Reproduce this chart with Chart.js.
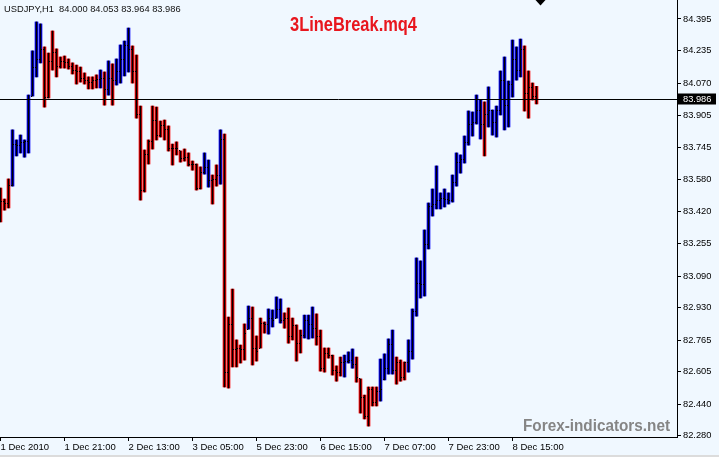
<!DOCTYPE html>
<html>
<head>
<meta charset="utf-8">
<script src="https://cdn.jsdelivr.net/npm/chart.js@4.4.1/dist/chart.umd.min.js"></script>
<style>
  html, body { margin: 0; padding: 0; background: #f0f8ff; }
  canvas { display: block; }
</style>
</head>
<body>
<canvas id="chart" width="719" height="457"></canvas>
<script>
// USDJPY H1 bars, 1 Dec 2010 .. 8 Dec 2010
const opens = [
  83.500, 83.471, 83.461, 83.552, 83.760, 83.755, 83.766, 83.771, 84.004, 84.151,
  84.187, 84.238, 83.999, 84.177, 84.227, 84.156, 84.177, 84.172, 84.156, 84.136,
  84.126, 84.095, 84.085, 84.075, 84.085, 84.090, 84.095, 84.035, 84.095, 84.085,
  84.126, 84.187, 84.258, 84.238, 84.126, 83.908, 83.522, 83.705, 83.771, 83.882,
  83.806, 83.852, 83.832, 83.740, 83.740, 83.725, 83.689, 83.694, 83.654, 83.654,
  83.537, 83.618, 83.639, 83.573, 83.578, 83.603, 83.781, 82.603, 82.842, 82.715,
  82.725, 82.715, 82.821, 82.877, 82.725, 82.725, 82.852, 82.842, 82.877, 82.877,
  82.918, 82.867, 82.877, 82.781, 82.837, 82.750, 82.791, 82.867, 82.842, 82.826,
  82.786, 82.623, 82.695, 82.689, 82.613, 82.603, 82.654, 82.659, 82.664, 82.639,
  82.568, 82.476, 82.375, 82.512, 82.446, 82.502, 82.563, 82.623, 82.745, 82.613,
  82.649, 82.573, 82.654, 82.705, 82.908, 83.055, 83.045, 83.248, 83.441, 83.451,
  83.476, 83.486, 83.481, 83.476, 83.563, 83.669, 83.684, 83.766, 83.862, 83.872,
  83.933, 83.862, 83.908, 83.933, 83.872, 83.933, 84.085, 83.958, 84.060, 84.187,
  84.136, 84.238, 84.019, 84.045, 84.000
];
const highs = [
  83.537, 83.481, 83.583, 83.832, 83.781, 83.806, 83.781, 84.009, 84.233, 84.380,
  84.370, 84.253, 84.222, 84.334, 84.243, 84.202, 84.207, 84.192, 84.172, 84.161,
  84.151, 84.121, 84.101, 84.101, 84.111, 84.136, 84.126, 84.182, 84.167, 84.192,
  84.263, 84.283, 84.349, 84.258, 84.212, 83.953, 83.730, 83.781, 83.953, 83.948,
  83.877, 83.882, 83.852, 83.760, 83.771, 83.725, 83.735, 83.715, 83.674, 83.659,
  83.644, 83.715, 83.679, 83.603, 83.654, 83.832, 83.811, 82.882, 83.024, 82.766,
  82.740, 82.847, 82.938, 82.933, 82.786, 82.877, 82.857, 82.923, 82.918, 82.984,
  82.974, 82.903, 82.928, 82.877, 82.842, 82.816, 82.892, 82.892, 82.933, 82.898,
  82.816, 82.725, 82.725, 82.689, 82.634, 82.679, 82.689, 82.705, 82.720, 82.679,
  82.568, 82.486, 82.527, 82.527, 82.527, 82.669, 82.695, 82.771, 82.816, 82.679,
  82.664, 82.654, 82.766, 82.923, 83.182, 83.167, 83.324, 83.461, 83.532, 83.649,
  83.512, 83.532, 83.512, 83.603, 83.715, 83.705, 83.801, 83.928, 83.923, 84.009,
  83.984, 83.974, 84.050, 83.933, 83.953, 84.131, 84.202, 84.080, 84.288, 84.253,
  84.293, 84.258, 84.131, 84.070, 84.053
];
const lows = [
  83.365, 83.425, 83.436, 83.547, 83.700, 83.715, 83.694, 83.715, 84.004, 84.101,
  84.172, 83.948, 83.994, 84.136, 84.101, 84.146, 84.146, 84.141, 84.116, 84.065,
  84.075, 84.065, 84.040, 84.040, 84.045, 84.045, 83.958, 84.009, 83.958, 84.060,
  84.070, 84.106, 84.126, 84.070, 83.892, 83.476, 83.517, 83.659, 83.735, 83.781,
  83.796, 83.781, 83.725, 83.654, 83.705, 83.669, 83.674, 83.649, 83.628, 83.527,
  83.532, 83.608, 83.542, 83.456, 83.547, 83.557, 82.527, 82.522, 82.629, 82.629,
  82.649, 82.664, 82.821, 82.639, 82.659, 82.725, 82.801, 82.796, 82.832, 82.877,
  82.852, 82.826, 82.750, 82.766, 82.659, 82.700, 82.776, 82.771, 82.776, 82.740,
  82.608, 82.603, 82.674, 82.588, 82.557, 82.583, 82.578, 82.649, 82.623, 82.552,
  82.395, 82.365, 82.329, 82.431, 82.431, 82.456, 82.563, 82.593, 82.593, 82.542,
  82.557, 82.563, 82.603, 82.669, 82.887, 82.979, 82.989, 83.228, 83.395, 83.431,
  83.431, 83.441, 83.456, 83.466, 83.547, 83.613, 83.664, 83.755, 83.801, 83.862,
  83.786, 83.700, 83.847, 83.806, 83.796, 83.908, 83.832, 83.847, 83.999, 84.085,
  84.101, 83.928, 83.892, 83.984, 83.964
];
const closes = [
  83.471, 83.461, 83.552, 83.760, 83.755, 83.766, 83.771, 83.984, 84.151, 84.187,
  84.238, 83.999, 84.177, 84.227, 84.156, 84.177, 84.172, 84.156, 84.136, 84.126,
  84.095, 84.085, 84.075, 84.085, 84.090, 84.095, 84.035, 84.095, 84.085, 84.126,
  84.187, 84.258, 84.238, 84.126, 83.908, 83.522, 83.705, 83.771, 83.882, 83.806,
  83.852, 83.832, 83.740, 83.740, 83.740, 83.689, 83.694, 83.654, 83.654, 83.537,
  83.618, 83.639, 83.573, 83.578, 83.603, 83.781, 82.603, 82.842, 82.715, 82.725,
  82.715, 82.801, 82.877, 82.725, 82.705, 82.852, 82.842, 82.877, 82.867, 82.918,
  82.867, 82.877, 82.781, 82.837, 82.750, 82.791, 82.867, 82.842, 82.826, 82.786,
  82.623, 82.695, 82.689, 82.613, 82.603, 82.654, 82.659, 82.664, 82.639, 82.573,
  82.476, 82.375, 82.512, 82.446, 82.502, 82.512, 82.623, 82.745, 82.613, 82.649,
  82.573, 82.654, 82.705, 82.908, 83.055, 83.045, 83.248, 83.441, 83.451, 83.476,
  83.486, 83.481, 83.476, 83.563, 83.669, 83.684, 83.766, 83.862, 83.872, 83.933,
  83.862, 83.908, 83.933, 83.872, 83.933, 84.085, 83.958, 84.060, 84.187, 84.136,
  84.238, 84.019, 84.045, 84.000, 83.986
];
// 3LineBreak state per bar: 1 = up (blue), -1 = down (red)
const trend = [
  -1, -1, -1, 1, 1, 1, 1, 1, 1, 1,
  1, -1, -1, -1, -1, -1, -1, -1, -1, -1,
  -1, -1, -1, -1, -1, 1, -1, 1, -1, 1,
  1, 1, 1, -1, -1, -1, -1, -1, -1, -1,
  -1, -1, -1, -1, -1, -1, -1, -1, -1, -1,
  -1, 1, 1, -1, -1, 1, -1, -1, -1, -1,
  -1, -1, 1, -1, -1, -1, -1, 1, 1, 1,
  1, -1, -1, -1, -1, -1, 1, 1, 1, -1,
  -1, -1, -1, -1, -1, -1, 1, 1, 1, -1,
  -1, -1, -1, -1, -1, 1, 1, 1, 1, -1,
  -1, -1, 1, 1, 1, 1, 1, 1, 1, 1,
  1, 1, 1, 1, 1, 1, 1, 1, 1, 1,
  1, -1, 1, 1, 1, 1, 1, 1, 1, 1,
  1, -1, -1, -1, -1
];

const timeTickIndex = [0, 16, 32, 48, 64, 80, 96, 112, 128];
const timeLabels = ['1 Dec 2010', '1 Dec 21:00', '2 Dec 13:00', '3 Dec 05:00', '5 Dec 23:00',
  '6 Dec 15:00', '7 Dec 07:00', '7 Dec 23:00', '8 Dec 15:00'];
const priceTicks = [84.395, 84.235, 84.070, 83.905, 83.745, 83.580, 83.420, 83.255,
  83.090, 82.930, 82.765, 82.605, 82.440, 82.280];

const symbolLine = 'USDJPY,H1  84.000 84.053 83.964 83.986';
const indicatorName = '3LineBreak.mq4';
const watermark = 'Forex-indicators.net';
const currentPrice = 83.986;

const BG = '#f0f8ff';
const UP = '#0000ff';
const DOWN = '#ff0000';
const FONT = "'Liberation Sans', Arial, sans-serif";

const ranges = highs.map((h, i) => ({ x: i, y: [lows[i], h] }));

// draws text squeezed horizontally to a given width (the MT4 label font is narrow)
function fitText(c, text, x, y, width) {
  const w = c.measureText(text).width;
  c.save();
  c.translate(x, y);
  c.scale(width / w, 1);
  c.fillText(text, 0, 0);
  c.restore();
}

// open tick left, close tick right, current price line and text overlays
const mtDecor = {
  id: 'mtDecor',
  beforeDraw(chart) {
    const c = chart.ctx;
    c.save();
    c.fillStyle = BG;
    c.fillRect(0, 0, chart.width, chart.height);
    c.fillStyle = '#dcdcdc';
    c.fillRect(0, chart.height - 2, chart.width, 2);
    c.restore();
  },
  afterDatasetsDraw(chart) {
    const { ctx: c, scales: { x, y } } = chart;
    c.save();
    c.fillStyle = '#000';
    for (let i = 0; i < closes.length; i++) {
      const px = Math.round(x.getPixelForValue(i) - 0.5);
      c.fillRect(px - 1, Math.floor(y.getPixelForValue(opens[i])), 1, 1);
      c.fillRect(px + 1, Math.floor(y.getPixelForValue(closes[i])), 1, 1);
    }
    c.restore();
  },
  afterDraw(chart) {
    const { ctx: c, chartArea: a, scales: { x, y } } = chart;
    c.save();

    // current price line + label
    const py = Math.floor(y.getPixelForValue(currentPrice)) + 0.5;
    c.strokeStyle = '#000';
    c.lineWidth = 1;
    c.beginPath();
    c.moveTo(a.left, py);
    c.lineTo(a.right, py);
    c.stroke();
    c.fillStyle = '#000';
    c.fillRect(a.right + 1, py - 6, 38, 11);
    c.font = '9.3px ' + FONT;
    c.fillStyle = '#fff';
    c.textBaseline = 'middle';
    c.textAlign = 'left';
    c.fillText(currentPrice.toFixed(3), a.right + 6, py);

    // chart shift marker
    const sx = x.getPixelForValue(closes.length);
    c.fillStyle = '#000';
    c.beginPath();
    c.moveTo(sx - 5, 0);
    c.lineTo(sx + 5, 0);
    c.lineTo(sx, 5.5);
    c.closePath();
    c.fill();

    // symbol line
    c.textBaseline = 'alphabetic';
    c.fillStyle = '#111';
    c.font = '9.3px ' + FONT;
    c.fillText(symbolLine, 4, 12);

    // indicator name
    c.fillStyle = '#e8161e';
    c.font = 'bold 20px ' + FONT;
    fitText(c, indicatorName, 290, 31, 127);

    // watermark
    c.fillStyle = '#858585';
    c.font = 'bold 16px ' + FONT;
    fitText(c, watermark, 523, 431, 147);

    c.restore();
  }
};

new Chart(document.getElementById('chart').getContext('2d'), {
  type: 'bar',
  data: {
    datasets: [
      {
        data: ranges,
        backgroundColor: '#000',
        barThickness: 1,
        grouped: false,
        order: 0
      },
      {
        data: ranges,
        backgroundColor: trend.map(t => (t > 0 ? UP : DOWN)),
        barThickness: 3,
        grouped: false,
        order: 1
      }
    ]
  },
  options: {
    responsive: false,
    animation: false,
    events: [],
    layout: { padding: 0, autoPadding: false },
    plugins: { legend: { display: false }, tooltip: { enabled: false } },
    scales: {
      x: {
        type: 'linear',
        min: -0.125,
        max: 169.125,
        offset: false,
        grid: { display: true, offset: false, drawOnChartArea: false, drawTicks: true, tickLength: 4, color: '#000' },
        border: { display: true, color: '#000' },
        afterBuildTicks: s => { s.ticks = timeTickIndex.map(v => ({ value: v })); },
        afterFit: s => {
          s.height = 20;
          s.paddingLeft = 0;
          s.paddingRight = 0;
        },
        ticks: {
          autoSkip: false,
          maxRotation: 0,
          align: 'start',
          padding: 1,
          color: '#000',
          font: { family: FONT, size: 9.5 },
          callback: (v, i) => timeLabels[i]
        }
      },
      y: {
        position: 'right',
        min: 82.2734,
        max: 84.4914,
        grid: { display: true, drawOnChartArea: false, drawTicks: true, tickLength: 4, color: '#000' },
        border: { display: true, color: '#000' },
        afterBuildTicks: s => { s.ticks = priceTicks.map(v => ({ value: v })); },
        afterFit: s => {
          s.width = 42;
          s.paddingTop = 0;
          s.paddingBottom = 0;
        },
        ticks: {
          autoSkip: false,
          padding: 2,
          color: '#000',
          font: { family: FONT, size: 9.3 },
          callback: v => Number(v).toFixed(3)
        }
      }
    }
  },
  plugins: [mtDecor]
});
</script>
</body>
</html>
